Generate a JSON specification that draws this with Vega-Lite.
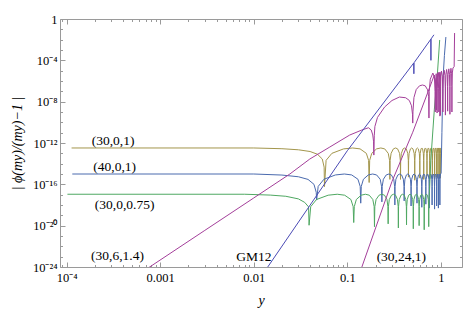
{
"$schema": "https://vega.github.io/schema/vega-lite/v6.json",
"width": 402, "height": 248,
"autosize": {"type": "none"},
"padding": {"left": 60, "top": 19, "right": 5, "bottom": 48},
"background": "white",
"config": {"view": {"stroke": "#9a9a9a", "strokeWidth": 1}, "axis": {"grid": false, "domain": false, "tickColor": "#9a9a9a", "tickWidth": 1}},
"datasets": {
"curves": [
{"s":"30,0,1","x":1.13e-4,"y":3.3e-13},{"s":"30,0,1","x":0.01,"y":3.3e-13},{"s":"30,0,1","x":0.02,"y":2.8e-13},{"s":"30,0,1","x":0.03,"y":2.2e-13},{"s":"30,0,1","x":0.04,"y":1.5e-13},{"s":"30,0,1","x":0.048,"y":8.1e-14},{"s":"30,0,1","x":0.054,"y":2.8e-14},{"s":"30,0,1","x":0.0565,"y":4.6e-15},{"s":"30,0,1","x":0.057,"y":6e-17},
{"s":"30,0,1","x":0.0593,"y":2.1e-14},{"s":"30,0,1","x":0.0684,"y":1.0e-13},{"s":"30,0,1","x":0.0912,"y":2.7e-13},{"s":"30,0,1","x":0.114,"y":3.3e-13},{"s":"30,0,1","x":0.1368,"y":2.7e-13},{"s":"30,0,1","x":0.1596,"y":1.0e-13},{"s":"30,0,1","x":0.1687,"y":2.1e-14},{"s":"30,0,1","x":0.171,"y":1.5e-16},
{"s":"30,0,1","x":0.1733,"y":2.1e-14},{"s":"30,0,1","x":0.1824,"y":1.0e-13},{"s":"30,0,1","x":0.2052,"y":2.7e-13},{"s":"30,0,1","x":0.228,"y":3.3e-13},{"s":"30,0,1","x":0.2508,"y":2.7e-13},{"s":"30,0,1","x":0.2736,"y":1.0e-13},{"s":"30,0,1","x":0.2827,"y":2.1e-14},{"s":"30,0,1","x":0.285,"y":3e-16},
{"s":"30,0,1","x":0.2867,"y":2.1e-14},{"s":"30,0,1","x":0.2935,"y":1.0e-13},{"s":"30,0,1","x":0.3105,"y":2.7e-13},{"s":"30,0,1","x":0.3275,"y":3.3e-13},{"s":"30,0,1","x":0.3445,"y":2.7e-13},{"s":"30,0,1","x":0.3615,"y":1.0e-13},{"s":"30,0,1","x":0.3683,"y":2.1e-14},{"s":"30,0,1","x":0.37,"y":3e-16},
{"s":"30,0,1","x":0.3716,"y":2.1e-14},{"s":"30,0,1","x":0.378,"y":1.0e-13},{"s":"30,0,1","x":0.394,"y":2.7e-13},{"s":"30,0,1","x":0.41,"y":3.3e-13},{"s":"30,0,1","x":0.426,"y":2.7e-13},{"s":"30,0,1","x":0.442,"y":1.0e-13},{"s":"30,0,1","x":0.4484,"y":2.1e-14},{"s":"30,0,1","x":0.45,"y":5e-16},
{"s":"30,0,1","x":0.4515,"y":2.1e-14},{"s":"30,0,1","x":0.4575,"y":1.0e-13},{"s":"30,0,1","x":0.4725,"y":2.7e-13},{"s":"30,0,1","x":0.4875,"y":3.3e-13},{"s":"30,0,1","x":0.5025,"y":2.7e-13},{"s":"30,0,1","x":0.5175,"y":1.0e-13},{"s":"30,0,1","x":0.5235,"y":2.1e-14},{"s":"30,0,1","x":0.525,"y":2.5e-16},
{"s":"30,0,1","x":0.5264,"y":2.1e-14},{"s":"30,0,1","x":0.532,"y":1.0e-13},{"s":"30,0,1","x":0.546,"y":2.7e-13},{"s":"30,0,1","x":0.56,"y":3.3e-13},{"s":"30,0,1","x":0.574,"y":2.7e-13},{"s":"30,0,1","x":0.588,"y":1.0e-13},{"s":"30,0,1","x":0.5936,"y":2.1e-14},{"s":"30,0,1","x":0.595,"y":4e-16},
{"s":"30,0,1","x":0.5962,"y":2.1e-14},{"s":"30,0,1","x":0.601,"y":1.0e-13},{"s":"30,0,1","x":0.613,"y":2.7e-13},{"s":"30,0,1","x":0.625,"y":3.3e-13},{"s":"30,0,1","x":0.637,"y":2.7e-13},{"s":"30,0,1","x":0.649,"y":1.0e-13},{"s":"30,0,1","x":0.6538,"y":2.1e-14},{"s":"30,0,1","x":0.655,"y":3e-16},
{"s":"30,0,1","x":0.6561,"y":2.1e-14},{"s":"30,0,1","x":0.6605,"y":1.0e-13},{"s":"30,0,1","x":0.6715,"y":2.7e-13},{"s":"30,0,1","x":0.6825,"y":3.3e-13},{"s":"30,0,1","x":0.6935,"y":2.7e-13},{"s":"30,0,1","x":0.7045,"y":1.0e-13},{"s":"30,0,1","x":0.7089,"y":2.1e-14},{"s":"30,0,1","x":0.71,"y":6e-16},
{"s":"30,0,1","x":0.711,"y":2.1e-14},{"s":"30,0,1","x":0.715,"y":1.0e-13},{"s":"30,0,1","x":0.725,"y":2.7e-13},{"s":"30,0,1","x":0.735,"y":3.3e-13},{"s":"30,0,1","x":0.745,"y":2.7e-13},{"s":"30,0,1","x":0.755,"y":1.0e-13},{"s":"30,0,1","x":0.759,"y":2.1e-14},{"s":"30,0,1","x":0.76,"y":3.5e-16},
{"s":"30,0,1","x":0.761,"y":2.1e-14},{"s":"30,0,1","x":0.765,"y":1.0e-13},{"s":"30,0,1","x":0.775,"y":2.7e-13},{"s":"30,0,1","x":0.785,"y":3.3e-13},{"s":"30,0,1","x":0.795,"y":2.7e-13},{"s":"30,0,1","x":0.805,"y":1.0e-13},{"s":"30,0,1","x":0.809,"y":2.1e-14},{"s":"30,0,1","x":0.81,"y":4.5e-16},
{"s":"30,0,1","x":0.8109,"y":2.1e-14},{"s":"30,0,1","x":0.8145,"y":1.0e-13},{"s":"30,0,1","x":0.8235,"y":2.7e-13},{"s":"30,0,1","x":0.8325,"y":3.3e-13},{"s":"30,0,1","x":0.8415,"y":2.7e-13},{"s":"30,0,1","x":0.8505,"y":1.0e-13},{"s":"30,0,1","x":0.8541,"y":2.1e-14},{"s":"30,0,1","x":0.855,"y":3e-16},
{"s":"30,0,1","x":0.8558,"y":2.1e-14},{"s":"30,0,1","x":0.859,"y":1.0e-13},{"s":"30,0,1","x":0.867,"y":2.7e-13},{"s":"30,0,1","x":0.875,"y":3.3e-13},{"s":"30,0,1","x":0.883,"y":2.7e-13},{"s":"30,0,1","x":0.891,"y":1.0e-13},{"s":"30,0,1","x":0.8942,"y":2.1e-14},{"s":"30,0,1","x":0.895,"y":5e-16},
{"s":"30,0,1","x":0.8985,"y":1.0e-13},{"s":"30,0,1","x":0.9125,"y":3.3e-13},{"s":"30,0,1","x":0.9265,"y":1.0e-13},{"s":"30,0,1","x":0.93,"y":4e-16},
{"s":"30,0,1","x":0.933,"y":1.0e-13},{"s":"30,0,1","x":0.945,"y":3.3e-13},{"s":"30,0,1","x":0.957,"y":1.0e-13},{"s":"30,0,1","x":0.96,"y":6e-16},
{"s":"30,0,1","x":0.9625,"y":1.0e-13},{"s":"30,0,1","x":0.9725,"y":3.3e-13},{"s":"30,0,1","x":0.9825,"y":1.0e-13},{"s":"30,0,1","x":0.985,"y":4e-16},
{"s":"30,0,1","x":0.9875,"y":1.0e-13},{"s":"30,0,1","x":0.995,"y":3.3e-13},

{"s":"40,0,1","x":1.15e-4,"y":1e-15},{"s":"40,0,1","x":0.01,"y":1e-15},{"s":"40,0,1","x":0.02,"y":7.9e-16},{"s":"40,0,1","x":0.03,"y":5.4e-16},{"s":"40,0,1","x":0.038,"y":3e-16},{"s":"40,0,1","x":0.044,"y":1e-16},{"s":"40,0,1","x":0.0465,"y":1.7e-17},{"s":"40,0,1","x":0.047,"y":3e-18},
{"s":"40,0,1","x":0.0488,"y":6.3e-17},{"s":"40,0,1","x":0.0562,"y":3.1e-16},{"s":"40,0,1","x":0.0746,"y":8.1e-16},{"s":"40,0,1","x":0.093,"y":1e-15},{"s":"40,0,1","x":0.1114,"y":8.1e-16},{"s":"40,0,1","x":0.1298,"y":3.1e-16},{"s":"40,0,1","x":0.1372,"y":6.3e-17},{"s":"40,0,1","x":0.139,"y":1.5e-18},
{"s":"40,0,1","x":0.1409,"y":6.3e-17},{"s":"40,0,1","x":0.1485,"y":3.1e-16},{"s":"40,0,1","x":0.1675,"y":8.1e-16},{"s":"40,0,1","x":0.1865,"y":1e-15},{"s":"40,0,1","x":0.2055,"y":8.1e-16},{"s":"40,0,1","x":0.2245,"y":3.1e-16},{"s":"40,0,1","x":0.2321,"y":6.3e-17},{"s":"40,0,1","x":0.234,"y":2e-18},
{"s":"40,0,1","x":0.2358,"y":6.3e-17},{"s":"40,0,1","x":0.2428,"y":3.1e-16},{"s":"40,0,1","x":0.2604,"y":8.1e-16},{"s":"40,0,1","x":0.278,"y":1e-15},{"s":"40,0,1","x":0.2956,"y":8.1e-16},{"s":"40,0,1","x":0.3132,"y":3.1e-16},{"s":"40,0,1","x":0.3202,"y":6.3e-17},{"s":"40,0,1","x":0.322,"y":1e-18},
{"s":"40,0,1","x":0.3237,"y":6.3e-17},{"s":"40,0,1","x":0.3303,"y":3.1e-16},{"s":"40,0,1","x":0.3469,"y":8.1e-16},{"s":"40,0,1","x":0.3635,"y":1e-15},{"s":"40,0,1","x":0.3801,"y":8.1e-16},{"s":"40,0,1","x":0.3967,"y":3.1e-16},{"s":"40,0,1","x":0.4033,"y":6.3e-17},{"s":"40,0,1","x":0.405,"y":2.5e-18},
{"s":"40,0,1","x":0.4065,"y":6.3e-17},{"s":"40,0,1","x":0.4125,"y":3.1e-16},{"s":"40,0,1","x":0.4275,"y":8.1e-16},{"s":"40,0,1","x":0.4425,"y":1e-15},{"s":"40,0,1","x":0.4575,"y":8.1e-16},{"s":"40,0,1","x":0.4725,"y":3.1e-16},{"s":"40,0,1","x":0.4785,"y":6.3e-17},{"s":"40,0,1","x":0.48,"y":8e-19},
{"s":"40,0,1","x":0.4815,"y":6.3e-17},{"s":"40,0,1","x":0.4875,"y":3.1e-16},{"s":"40,0,1","x":0.5025,"y":8.1e-16},{"s":"40,0,1","x":0.5175,"y":1e-15},{"s":"40,0,1","x":0.5325,"y":8.1e-16},{"s":"40,0,1","x":0.5475,"y":3.1e-16},{"s":"40,0,1","x":0.5535,"y":6.3e-17},{"s":"40,0,1","x":0.555,"y":1.5e-18},
{"s":"40,0,1","x":0.5564,"y":6.3e-17},{"s":"40,0,1","x":0.562,"y":3.1e-16},{"s":"40,0,1","x":0.576,"y":8.1e-16},{"s":"40,0,1","x":0.59,"y":1e-15},{"s":"40,0,1","x":0.604,"y":8.1e-16},{"s":"40,0,1","x":0.618,"y":3.1e-16},{"s":"40,0,1","x":0.6236,"y":6.3e-17},{"s":"40,0,1","x":0.625,"y":6e-19},
{"s":"40,0,1","x":0.6263,"y":6.3e-17},{"s":"40,0,1","x":0.6315,"y":3.1e-16},{"s":"40,0,1","x":0.6445,"y":8.1e-16},{"s":"40,0,1","x":0.6575,"y":1e-15},{"s":"40,0,1","x":0.6705,"y":8.1e-16},{"s":"40,0,1","x":0.6835,"y":3.1e-16},{"s":"40,0,1","x":0.6887,"y":6.3e-17},{"s":"40,0,1","x":0.69,"y":1.2e-18},
{"s":"40,0,1","x":0.6912,"y":6.3e-17},{"s":"40,0,1","x":0.696,"y":3.1e-16},{"s":"40,0,1","x":0.708,"y":8.1e-16},{"s":"40,0,1","x":0.72,"y":1e-15},{"s":"40,0,1","x":0.732,"y":8.1e-16},{"s":"40,0,1","x":0.744,"y":3.1e-16},{"s":"40,0,1","x":0.7488,"y":6.3e-17},{"s":"40,0,1","x":0.75,"y":5e-19},
{"s":"40,0,1","x":0.7511,"y":6.3e-17},{"s":"40,0,1","x":0.7555,"y":3.1e-16},{"s":"40,0,1","x":0.7665,"y":8.1e-16},{"s":"40,0,1","x":0.7775,"y":1e-15},{"s":"40,0,1","x":0.7885,"y":8.1e-16},{"s":"40,0,1","x":0.7995,"y":3.1e-16},{"s":"40,0,1","x":0.8039,"y":6.3e-17},{"s":"40,0,1","x":0.805,"y":1e-18},
{"s":"40,0,1","x":0.806,"y":6.3e-17},{"s":"40,0,1","x":0.81,"y":3.1e-16},{"s":"40,0,1","x":0.82,"y":8.1e-16},{"s":"40,0,1","x":0.83,"y":1e-15},{"s":"40,0,1","x":0.84,"y":8.1e-16},{"s":"40,0,1","x":0.85,"y":3.1e-16},{"s":"40,0,1","x":0.854,"y":6.3e-17},{"s":"40,0,1","x":0.855,"y":4e-19},
{"s":"40,0,1","x":0.8559,"y":6.3e-17},{"s":"40,0,1","x":0.8595,"y":3.1e-16},{"s":"40,0,1","x":0.8685,"y":8.1e-16},{"s":"40,0,1","x":0.8775,"y":1e-15},{"s":"40,0,1","x":0.8865,"y":8.1e-16},{"s":"40,0,1","x":0.8955,"y":3.1e-16},{"s":"40,0,1","x":0.8991,"y":6.3e-17},{"s":"40,0,1","x":0.9,"y":8e-19},
{"s":"40,0,1","x":0.904,"y":3.1e-16},{"s":"40,0,1","x":0.92,"y":1e-15},{"s":"40,0,1","x":0.936,"y":3.1e-16},{"s":"40,0,1","x":0.94,"y":5e-19},
{"s":"40,0,1","x":0.9435,"y":3.1e-16},{"s":"40,0,1","x":0.9575,"y":1e-15},{"s":"40,0,1","x":0.9715,"y":3.1e-16},{"s":"40,0,1","x":0.975,"y":1e-18},
{"s":"40,0,1","x":0.9785,"y":3.1e-16},{"s":"40,0,1","x":0.99,"y":1e-15},{"s":"40,0,1","x":1.005,"y":1.2e-15},{"s":"40,0,1","x":1.025,"y":1e-11},{"s":"40,0,1","x":1.05,"y":1e-6},{"s":"40,0,1","x":1.09,"y":3e-4},{"s":"40,0,1","x":1.13,"y":1.8e-2},

{"s":"30,0,0.75","x":1.02e-4,"y":1.1e-17},{"s":"30,0,0.75","x":0.008,"y":1.1e-17},{"s":"30,0,0.75","x":0.015,"y":9.1e-18},{"s":"30,0,0.75","x":0.022,"y":7e-18},{"s":"30,0,0.75","x":0.03,"y":3.9e-18},{"s":"30,0,0.75","x":0.035,"y":1.8e-18},{"s":"30,0,0.75","x":0.0385,"y":6.6e-19},{"s":"30,0,0.75","x":0.039,"y":1.1e-20},
{"s":"30,0,0.75","x":0.0406,"y":6.9e-19},{"s":"30,0,0.75","x":0.0468,"y":3.4e-18},{"s":"30,0,0.75","x":0.0624,"y":8.9e-18},{"s":"30,0,0.75","x":0.078,"y":1.1e-17},{"s":"30,0,0.75","x":0.0936,"y":8.9e-18},{"s":"30,0,0.75","x":0.1092,"y":3.4e-18},{"s":"30,0,0.75","x":0.1154,"y":6.9e-19},{"s":"30,0,0.75","x":0.117,"y":2e-20},
{"s":"30,0,0.75","x":0.1186,"y":6.9e-19},{"s":"30,0,0.75","x":0.1248,"y":3.4e-18},{"s":"30,0,0.75","x":0.1404,"y":8.9e-18},{"s":"30,0,0.75","x":0.156,"y":1.1e-17},{"s":"30,0,0.75","x":0.1716,"y":8.9e-18},{"s":"30,0,0.75","x":0.1872,"y":3.4e-18},{"s":"30,0,0.75","x":0.1934,"y":6.9e-19},{"s":"30,0,0.75","x":0.195,"y":8e-21},
{"s":"30,0,0.75","x":0.1966,"y":6.9e-19},{"s":"30,0,0.75","x":0.2028,"y":3.4e-18},{"s":"30,0,0.75","x":0.2184,"y":8.9e-18},{"s":"30,0,0.75","x":0.234,"y":1.1e-17},{"s":"30,0,0.75","x":0.2496,"y":8.9e-18},{"s":"30,0,0.75","x":0.2652,"y":3.4e-18},{"s":"30,0,0.75","x":0.2714,"y":6.9e-19},{"s":"30,0,0.75","x":0.273,"y":1.5e-20},
{"s":"30,0,0.75","x":0.2746,"y":6.9e-19},{"s":"30,0,0.75","x":0.2808,"y":3.4e-18},{"s":"30,0,0.75","x":0.2964,"y":8.9e-18},{"s":"30,0,0.75","x":0.312,"y":1.1e-17},{"s":"30,0,0.75","x":0.3276,"y":8.9e-18},{"s":"30,0,0.75","x":0.3432,"y":3.4e-18},{"s":"30,0,0.75","x":0.3494,"y":6.9e-19},{"s":"30,0,0.75","x":0.351,"y":6e-21},
{"s":"30,0,0.75","x":0.3526,"y":6.9e-19},{"s":"30,0,0.75","x":0.3588,"y":3.4e-18},{"s":"30,0,0.75","x":0.3744,"y":8.9e-18},{"s":"30,0,0.75","x":0.39,"y":1.1e-17},{"s":"30,0,0.75","x":0.4056,"y":8.9e-18},{"s":"30,0,0.75","x":0.4212,"y":3.4e-18},{"s":"30,0,0.75","x":0.4274,"y":6.9e-19},{"s":"30,0,0.75","x":0.429,"y":1.2e-20},
{"s":"30,0,0.75","x":0.4306,"y":6.9e-19},{"s":"30,0,0.75","x":0.4368,"y":3.4e-18},{"s":"30,0,0.75","x":0.4524,"y":8.9e-18},{"s":"30,0,0.75","x":0.468,"y":1.1e-17},{"s":"30,0,0.75","x":0.4836,"y":8.9e-18},{"s":"30,0,0.75","x":0.4992,"y":3.4e-18},{"s":"30,0,0.75","x":0.5054,"y":6.9e-19},{"s":"30,0,0.75","x":0.507,"y":5e-21},
{"s":"30,0,0.75","x":0.5086,"y":6.9e-19},{"s":"30,0,0.75","x":0.5148,"y":3.4e-18},{"s":"30,0,0.75","x":0.5304,"y":8.9e-18},{"s":"30,0,0.75","x":0.546,"y":1.1e-17},{"s":"30,0,0.75","x":0.5616,"y":8.9e-18},{"s":"30,0,0.75","x":0.5772,"y":3.4e-18},{"s":"30,0,0.75","x":0.5834,"y":6.9e-19},{"s":"30,0,0.75","x":0.585,"y":1e-20},
{"s":"30,0,0.75","x":0.5866,"y":6.9e-19},{"s":"30,0,0.75","x":0.5928,"y":3.4e-18},{"s":"30,0,0.75","x":0.6084,"y":8.9e-18},{"s":"30,0,0.75","x":0.624,"y":1.1e-17},{"s":"30,0,0.75","x":0.6396,"y":8.9e-18},{"s":"30,0,0.75","x":0.6552,"y":3.4e-18},{"s":"30,0,0.75","x":0.6614,"y":6.9e-19},{"s":"30,0,0.75","x":0.663,"y":4e-21},
{"s":"30,0,0.75","x":0.6646,"y":6.9e-19},{"s":"30,0,0.75","x":0.6708,"y":3.4e-18},{"s":"30,0,0.75","x":0.6864,"y":8.9e-18},{"s":"30,0,0.75","x":0.702,"y":1.1e-17},{"s":"30,0,0.75","x":0.7176,"y":8.9e-18},{"s":"30,0,0.75","x":0.7332,"y":3.4e-18},{"s":"30,0,0.75","x":0.7394,"y":6.9e-19},{"s":"30,0,0.75","x":0.741,"y":8e-21},
{"s":"30,0,0.75","x":0.7426,"y":6.9e-19},{"s":"30,0,0.75","x":0.7468,"y":3.4e-18},{"s":"30,0,0.75","x":0.752,"y":1.1e-17},{"s":"30,0,0.75","x":0.78,"y":2.2e-14},{"s":"30,0,0.75","x":0.85,"y":1.6e-9},{"s":"30,0,0.75","x":0.92,"y":7.4e-6},{"s":"30,0,0.75","x":0.97,"y":9.3e-3},

{"s":"30,6,1.4","x":6e-4,"y":2.2e-25},{"s":"30,6,1.4","x":0.003,"y":3.5e-21},{"s":"30,6,1.4","x":0.01,"y":4.8e-18},{"s":"30,6,1.4","x":0.0243,"y":1e-15},{"s":"30,6,1.4","x":0.0397,"y":2.8e-14},{"s":"30,6,1.4","x":0.065,"y":4.1e-13},{"s":"30,6,1.4","x":0.106,"y":5.9e-12},{"s":"30,6,1.4","x":0.143,"y":1.8e-11},{"s":"30,6,1.4","x":0.168,"y":3e-11},{"s":"30,6,1.4","x":0.18,"y":1.8e-11},{"s":"30,6,1.4","x":0.187,"y":6e-12},{"s":"30,6,1.4","x":0.1905,"y":1.5e-12},{"s":"30,6,1.4","x":0.192,"y":6.8e-14},
{"s":"30,6,1.4","x":0.194,"y":5e-12},{"s":"30,6,1.4","x":0.197,"y":4e-11},{"s":"30,6,1.4","x":0.21,"y":3e-10},{"s":"30,6,1.4","x":0.25,"y":3e-9},{"s":"30,6,1.4","x":0.3,"y":1.3e-8},{"s":"30,6,1.4","x":0.36,"y":2.8e-8},{"s":"30,6,1.4","x":0.42,"y":2.4e-8},{"s":"30,6,1.4","x":0.46,"y":1.3e-8},{"s":"30,6,1.4","x":0.485,"y":4e-9},{"s":"30,6,1.4","x":0.497,"y":6e-10},{"s":"30,6,1.4","x":0.5,"y":8.5e-11},
{"s":"30,6,1.4","x":0.503,"y":1.2e-9},{"s":"30,6,1.4","x":0.515,"y":2.5e-8},{"s":"30,6,1.4","x":0.545,"y":1.5e-7},{"s":"30,6,1.4","x":0.59,"y":3.4e-7},{"s":"30,6,1.4","x":0.635,"y":4.1e-7},{"s":"30,6,1.4","x":0.68,"y":3.4e-7},{"s":"30,6,1.4","x":0.72,"y":1.4e-7},{"s":"30,6,1.4","x":0.7401,"y":3e-8},{"s":"30,6,1.4","x":0.745,"y":2.6e-10},
{"s":"30,6,1.4","x":0.75,"y":1e-7},{"s":"30,6,1.4","x":0.77,"y":1.5e-6},{"s":"30,6,1.4","x":0.82,"y":5.9e-6},{"s":"30,6,1.4","x":0.87,"y":1.5e-6},{"s":"30,6,1.4","x":0.89,"y":1e-7},{"s":"30,6,1.4","x":0.895,"y":1.6e-9},
{"s":"30,6,1.4","x":0.9,"y":1e-7},{"s":"30,6,1.4","x":0.915,"y":2e-6},{"s":"30,6,1.4","x":0.935,"y":7e-6},{"s":"30,6,1.4","x":0.955,"y":2e-6},{"s":"30,6,1.4","x":0.971,"y":1e-7},{"s":"30,6,1.4","x":0.976,"y":4e-10},
{"s":"30,6,1.4","x":0.98,"y":2e-7},{"s":"30,6,1.4","x":0.99,"y":3e-6},{"s":"30,6,1.4","x":1.013,"y":9e-6},{"s":"30,6,1.4","x":1.035,"y":3e-6},{"s":"30,6,1.4","x":1.046,"y":2e-7},{"s":"30,6,1.4","x":1.05,"y":1e-9},
{"s":"30,6,1.4","x":1.054,"y":2e-7},{"s":"30,6,1.4","x":1.063,"y":3.5e-6},{"s":"30,6,1.4","x":1.083,"y":1.1e-5},{"s":"30,6,1.4","x":1.104,"y":3.5e-6},{"s":"30,6,1.4","x":1.113,"y":2e-7},{"s":"30,6,1.4","x":1.117,"y":5e-10},
{"s":"30,6,1.4","x":1.121,"y":3e-7},{"s":"30,6,1.4","x":1.13,"y":4e-6},{"s":"30,6,1.4","x":1.15,"y":1.3e-5},{"s":"30,6,1.4","x":1.17,"y":4e-6},{"s":"30,6,1.4","x":1.176,"y":3e-7},{"s":"30,6,1.4","x":1.18,"y":1.2e-9},
{"s":"30,6,1.4","x":1.184,"y":3e-7},{"s":"30,6,1.4","x":1.194,"y":4.5e-6},{"s":"30,6,1.4","x":1.214,"y":1.5e-5},{"s":"30,6,1.4","x":1.234,"y":4.5e-6},{"s":"30,6,1.4","x":1.244,"y":3e-7},{"s":"30,6,1.4","x":1.248,"y":6e-10},
{"s":"30,6,1.4","x":1.252,"y":3e-7},{"s":"30,6,1.4","x":1.26,"y":5e-6},{"s":"30,6,1.4","x":1.28,"y":1.7e-5},{"s":"30,6,1.4","x":1.3,"y":5e-6},{"s":"30,6,1.4","x":1.307,"y":3e-7},{"s":"30,6,1.4","x":1.311,"y":1e-9},
{"s":"30,6,1.4","x":1.315,"y":4e-7},{"s":"30,6,1.4","x":1.325,"y":6e-6},{"s":"30,6,1.4","x":1.345,"y":1.8e-5},{"s":"30,6,1.4","x":1.385,"y":2.5e-5},{"s":"30,6,1.4","x":1.4,"y":0.044},

{"s":"30,24,1","x":0.13,"y":1e-25},{"s":"30,24,1","x":0.143,"y":1e-24},{"s":"30,24,1","x":0.3,"y":1.9e-16},{"s":"30,24,1","x":0.5,"y":1.1e-11},{"s":"30,24,1","x":0.7,"y":3.5e-8},{"s":"30,24,1","x":0.8,"y":8.7e-7},{"s":"30,24,1","x":0.85,"y":3.8e-6},{"s":"30,24,1","x":0.865,"y":1e-7},{"s":"30,24,1","x":0.87,"y":1e-9},{"s":"30,24,1","x":0.875,"y":2e-7},{"s":"30,24,1","x":0.89,"y":5e-6},{"s":"30,24,1","x":0.905,"y":2e-7},{"s":"30,24,1","x":0.91,"y":8e-10},{"s":"30,24,1","x":0.915,"y":2e-7},{"s":"30,24,1","x":0.93,"y":6e-6},{"s":"30,24,1","x":0.945,"y":2e-7},{"s":"30,24,1","x":0.95,"y":1e-9},{"s":"30,24,1","x":0.955,"y":3e-7},{"s":"30,24,1","x":0.97,"y":7e-6},{"s":"30,24,1","x":0.985,"y":3e-7},{"s":"30,24,1","x":0.99,"y":5e-10},{"s":"30,24,1","x":0.994,"y":3e-7},{"s":"30,24,1","x":1.0,"y":7e-6},

{"s":"GM12","x":0.012,"y":1.3e-25},{"s":"GM12","x":0.0141,"y":1e-24},{"s":"GM12","x":0.1,"y":1.8e-13},{"s":"GM12","x":0.512,"y":5.5e-5},{"s":"GM12","x":0.514,"y":5e-6},{"s":"GM12","x":0.516,"y":5.8e-5},{"s":"GM12","x":0.78,"y":1.1e-2},{"s":"GM12","x":0.782,"y":1e-4},{"s":"GM12","x":0.784,"y":1.17e-2},{"s":"GM12","x":0.842,"y":2.95e-2}
],
"labels": [
{"t":"(30,0,1)","x":3.14e-4,"y":1.55e-12},
{"t":"(40,0,1)","x":3.26e-4,"y":4.7e-15},
{"t":"(30,0,0.75)","x":4.17e-4,"y":1e-18},
{"t":"(30,6,1.4)","x":3.5e-4,"y":1.26e-23},
{"t":"GM12","x":0.01,"y":9.1e-24},
{"t":"(30,24,1)","x":0.378,"y":9.1e-24}
],
"dummy": [{"x": 0.01, "y": 1e-10}]
},
"layer": [
{
"data": {"name": "curves"},
"mark": {"type": "line", "strokeWidth": 1, "clip": true},
"encoding": {
"x": {"field": "x", "type": "quantitative", "scale": {"type": "log", "domain": [8.5e-5, 1.68], "nice": false},
 "axis": {"orient": "bottom", "values": [0.0001, 0.001, 0.01, 0.1, 1], "ticks": false, "labelOverlap": false, "labelFlush": false,
  "labelExpr": "datum.value < 0.0005 ? '10⁻⁴' : datum.value < 0.005 ? '0.001' : datum.value < 0.05 ? '0.01' : datum.value < 0.5 ? '0.1' : '1'",
  "labelFont": "Liberation Serif", "labelFontSize": 12.5, "labelColor": "#000000", "labelPadding": 4,
  "title": "y", "titleFont": "Liberation Serif", "titleFontSize": 14, "titleFontStyle": "italic", "titleFontWeight": "normal", "titleColor": "#000000", "titlePadding": 10}},
"y": {"field": "y", "type": "quantitative", "scale": {"type": "log", "domain": [1e-24, 1], "nice": false},
 "axis": {"orient": "left", "values": [1, 1e-4, 1e-8, 1e-12, 1e-16, 1e-20, 1e-24], "ticks": false, "labelOverlap": false, "labelFlush": false,
  "labelExpr": "datum.value > 0.01 ? '1' : datum.value > 1e-6 ? '10⁻⁴' : datum.value > 1e-10 ? '10⁻⁸' : datum.value > 1e-14 ? '10⁻¹²' : datum.value > 1e-18 ? '10⁻¹⁶' : datum.value > 1e-22 ? '10⁻²⁰' : '10⁻²⁴'",
  "labelFont": "Liberation Serif", "labelFontSize": 12.5, "labelColor": "#000000", "labelPadding": 3,
  "title": "| ϕ(my)/(my)−1 |", "titleFont": "Liberation Serif", "titleFontSize": 14, "titleFontStyle": "italic", "titleFontWeight": "normal", "titleColor": "#000000", "titlePadding": 8}},
"color": {"field": "s", "type": "nominal", "legend": null,
 "scale": {"domain": ["30,0,1", "40,0,1", "30,0,0.75", "30,6,1.4", "30,24,1", "GM12"], "range": ["#a3964c", "#4a6aae", "#4fa862", "#a43f9a", "#a43f9a", "#4b4bb5"]}}
}
},
{
"data": {"name": "labels"},
"mark": {"type": "text", "font": "Liberation Serif", "fontSize": 13.5, "color": "#000000", "align": "center", "baseline": "middle"},
"encoding": {
"x": {"field": "x", "type": "quantitative", "axis": null},
"y": {"field": "y", "type": "quantitative", "axis": null},
"text": {"field": "t"}
}
},
{
"data": {"name": "dummy"},
"mark": {"type": "point", "opacity": 0},
"encoding": {
"x": {"field": "x", "type": "quantitative", "axis": {"orient": "bottom", "values": [0.0001, 0.001, 0.01, 0.1, 1], "labels": false, "ticks": true, "tickSize": -5, "title": null}},
"y": {"field": "y", "type": "quantitative", "axis": {"orient": "left", "values": [1, 1e-4, 1e-8, 1e-12, 1e-16, 1e-20, 1e-24], "labels": false, "ticks": true, "tickSize": -5, "title": null}}
}
},
{
"data": {"name": "dummy"},
"mark": {"type": "point", "opacity": 0},
"encoding": {
"x": {"field": "x", "type": "quantitative", "axis": {"orient": "bottom", "values": [0.00009, 0.0002, 0.0003, 0.0004, 0.0005, 0.0006, 0.0007, 0.0008, 0.0009, 0.002, 0.003, 0.004, 0.005, 0.006, 0.007, 0.008, 0.009, 0.02, 0.03, 0.04, 0.05, 0.06, 0.07, 0.08, 0.09, 0.2, 0.3, 0.4, 0.5, 0.6, 0.7, 0.8, 0.9], "labels": false, "ticks": true, "tickSize": -2.5, "title": null}},
"y": {"field": "y", "type": "quantitative", "axis": {"orient": "left", "values": [0.1, 0.01, 0.001, 1e-5, 1e-6, 1e-7, 1e-9, 1e-10, 1e-11, 1e-13, 1e-14, 1e-15, 1e-17, 1e-18, 1e-19, 1e-21, 1e-22, 1e-23], "labels": false, "ticks": true, "tickSize": -2.5, "title": null}}
}
},
{
"data": {"name": "dummy"},
"mark": {"type": "point", "opacity": 0},
"encoding": {
"x": {"field": "x", "type": "quantitative", "axis": {"orient": "top", "values": [0.0001, 0.001, 0.01, 0.1, 1], "labels": false, "ticks": true, "tickSize": -5, "title": null}},
"y": {"field": "y", "type": "quantitative", "axis": {"orient": "right", "values": [1, 1e-4, 1e-8, 1e-12, 1e-16, 1e-20, 1e-24], "labels": false, "ticks": true, "tickSize": -5, "title": null}}
}
},
{
"data": {"name": "dummy"},
"mark": {"type": "point", "opacity": 0},
"encoding": {
"x": {"field": "x", "type": "quantitative", "axis": {"orient": "top", "values": [0.00009, 0.0002, 0.0003, 0.0004, 0.0005, 0.0006, 0.0007, 0.0008, 0.0009, 0.002, 0.003, 0.004, 0.005, 0.006, 0.007, 0.008, 0.009, 0.02, 0.03, 0.04, 0.05, 0.06, 0.07, 0.08, 0.09, 0.2, 0.3, 0.4, 0.5, 0.6, 0.7, 0.8, 0.9], "labels": false, "ticks": true, "tickSize": -2.5, "title": null}},
"y": {"field": "y", "type": "quantitative", "axis": {"orient": "right", "values": [0.1, 0.01, 0.001, 1e-5, 1e-6, 1e-7, 1e-9, 1e-10, 1e-11, 1e-13, 1e-14, 1e-15, 1e-17, 1e-18, 1e-19, 1e-21, 1e-22, 1e-23], "labels": false, "ticks": true, "tickSize": -2.5, "title": null}}
}
}
],
"resolve": {"axis": {"x": "independent", "y": "independent"}}
}
